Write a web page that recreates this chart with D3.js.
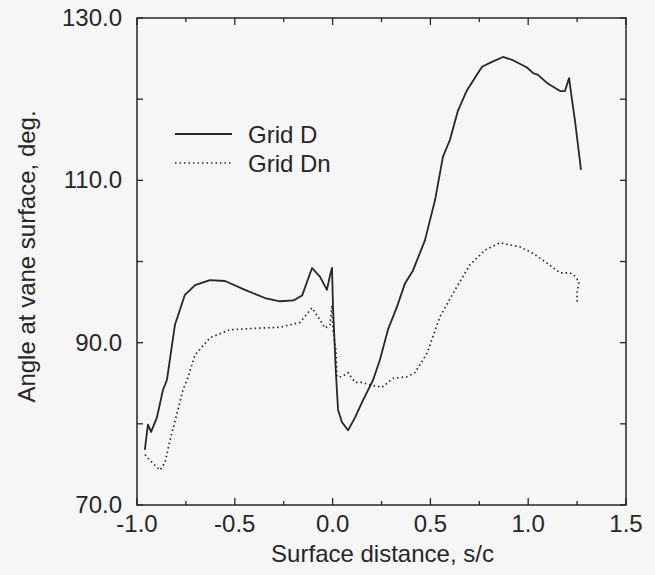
<!DOCTYPE html>
<html><head><meta charset="utf-8">
<script src="https://cdn.jsdelivr.net/npm/d3@7"></script>
<style>
html,body{margin:0;padding:0;background:#f6f6f6;}
text{font-family:"Liberation Sans",Arial,Helvetica,sans-serif;fill:#262626;}
</style></head>
<body><svg id="c" width="655" height="575"></svg>
<script>
const xTicks = [-1.0, -0.5, 0.0, 0.5, 1.0, 1.5];
const xMinor = [-0.75, -0.25, 0.25, 0.75, 1.25];
const yTicks = [70, 90, 110, 130];
const yMinor = [80, 100, 120];
const seriesNames = ["Grid D", "Grid Dn"];
const xD = [-0.96,-0.944,-0.928,-0.898,-0.867,-0.847,-0.806,-0.755,-0.703,-0.627,-0.55,-0.448,-0.346,-0.269,-0.2,-0.156,-0.105,-0.064,-0.029,-0.013,-0.003,0.002,0.017,0.028,0.048,0.079,0.115,0.155,0.207,0.242,0.283,0.329,0.370,0.411,0.472,0.524,0.564,0.600,0.641,0.687,0.764,0.815,0.871,0.922,0.994,1.025,1.050,1.096,1.163,1.188,1.209,1.224,1.239,1.270];
const yD = [76.8,79.9,79.0,80.8,84.2,85.4,92.2,95.9,97.1,97.7,97.6,96.5,95.5,95.1,95.2,95.8,99.2,98.1,96.5,98.3,99.2,94.5,86.2,81.7,80.2,79.2,80.8,82.9,85.4,87.9,91.6,94.4,97.3,98.9,102.6,107.6,112.9,115.0,118.6,121.1,124.0,124.6,125.2,124.8,123.9,123.2,123.0,122.0,121.0,121.0,122.6,119.9,117.4,111.3];
const xDn = [-0.959,-0.934,-0.882,-0.857,-0.831,-0.795,-0.765,-0.744,-0.703,-0.627,-0.525,-0.371,-0.269,-0.167,-0.105,-0.075,-0.039,-0.013,-0.003,0.002,0.017,0.022,0.048,0.079,0.115,0.150,0.191,0.253,0.309,0.380,0.421,0.483,0.549,0.626,0.702,0.779,0.856,0.958,1.025,1.096,1.163,1.214,1.239,1.260,1.250,1.250];
const yDn = [76.2,75.5,74.3,75.2,78.0,81.3,84.2,85.4,88.5,90.6,91.6,91.8,91.9,92.5,94.3,93.2,91.8,92.2,94.6,91.6,89.1,85.8,85.8,86.3,85.1,85.1,84.8,84.5,85.6,85.8,86.3,88.7,93.2,96.5,99.6,101.4,102.3,101.8,101.0,99.8,98.6,98.6,98.2,97.5,96.2,95.0];

const W = 655, H = 575;
const m = {left:137, right:29, top:18, bottom:70};
const svg = d3.select("#c");
const x = d3.scaleLinear().domain([-1, 1.5]).range([m.left, W - m.right]);
const y = d3.scaleLinear().domain([70, 130]).range([H - m.bottom, m.top]);
const ink = "#262626";
const fs = 24;

// frame
svg.append("rect").attr("x", x(-1)).attr("y", y(130))
  .attr("width", x(1.5) - x(-1)).attr("height", y(70) - y(130))
  .attr("fill", "none").attr("stroke", ink).attr("stroke-width", 1.5);

// ticks (inward, mirrored)
const tk = svg.append("g").attr("stroke", ink).attr("stroke-width", 1.3);
xTicks.forEach(v => {
  tk.append("line").attr("x1", x(v)).attr("x2", x(v)).attr("y1", y(70)).attr("y2", y(70) - 7);
  tk.append("line").attr("x1", x(v)).attr("x2", x(v)).attr("y1", y(130)).attr("y2", y(130) + 7);
});
xMinor.forEach(v => {
  tk.append("line").attr("x1", x(v)).attr("x2", x(v)).attr("y1", y(70)).attr("y2", y(70) - 4);
  tk.append("line").attr("x1", x(v)).attr("x2", x(v)).attr("y1", y(130)).attr("y2", y(130) + 4);
});
yTicks.concat(yMinor).forEach(v => {
  tk.append("line").attr("x1", x(-1)).attr("x2", x(-1) + 6).attr("y1", y(v)).attr("y2", y(v));
  tk.append("line").attr("x1", x(1.5)).attr("x2", x(1.5) - 6).attr("y1", y(v)).attr("y2", y(v));
});

// tick labels
svg.append("g").selectAll("text").data(xTicks).join("text")
  .attr("x", d => x(d)).attr("y", y(70) + 27).attr("text-anchor", "middle")
  .attr("font-size", fs).text(d => d.toFixed(1));
svg.append("g").selectAll("text").data(yTicks).join("text")
  .attr("x", x(-1) - 15).attr("y", d => y(d) + 8).attr("text-anchor", "end")
  .attr("font-size", fs).text(d => d.toFixed(1));

// axis titles
svg.append("text").attr("x", (x(-1) + x(1.5)) / 2 + 1).attr("y", 562)
  .attr("text-anchor", "middle").attr("font-size", fs).text("Surface distance, s/c");
svg.append("text").attr("transform", `translate(35,${(y(70) + y(130)) / 2 - 5}) rotate(-90)`)
  .attr("text-anchor", "middle").attr("font-size", fs).text("Angle at vane surface, deg.");

// lines
const line = d3.line().x(d => x(d[0])).y(d => y(d[1]));
const dD = xD.map((v, i) => [v, yD[i]]);
const dDn = xDn.map((v, i) => [v, yDn[i]]);
svg.append("path").datum(dD).attr("d", line).attr("fill", "none")
  .attr("stroke", ink).attr("stroke-width", 1.8).attr("stroke-linejoin", "round");
svg.append("path").datum(dDn).attr("d", line).attr("fill", "none")
  .attr("stroke", ink).attr("stroke-width", 1.7).attr("stroke-dasharray", "1.5 3");

// legend
const lg = svg.append("g");
lg.append("line").attr("x1", 175).attr("x2", 232).attr("y1", 134).attr("y2", 134)
  .attr("stroke", ink).attr("stroke-width", 1.8);
lg.append("line").attr("x1", 175).attr("x2", 232).attr("y1", 163).attr("y2", 163)
  .attr("stroke", ink).attr("stroke-width", 1.7).attr("stroke-dasharray", "1.5 3");
lg.append("text").attr("x", 248).attr("y", 143).attr("font-size", fs).text(seriesNames[0]);
lg.append("text").attr("x", 248).attr("y", 172).attr("font-size", fs).text(seriesNames[1]);
</script></body></html>
